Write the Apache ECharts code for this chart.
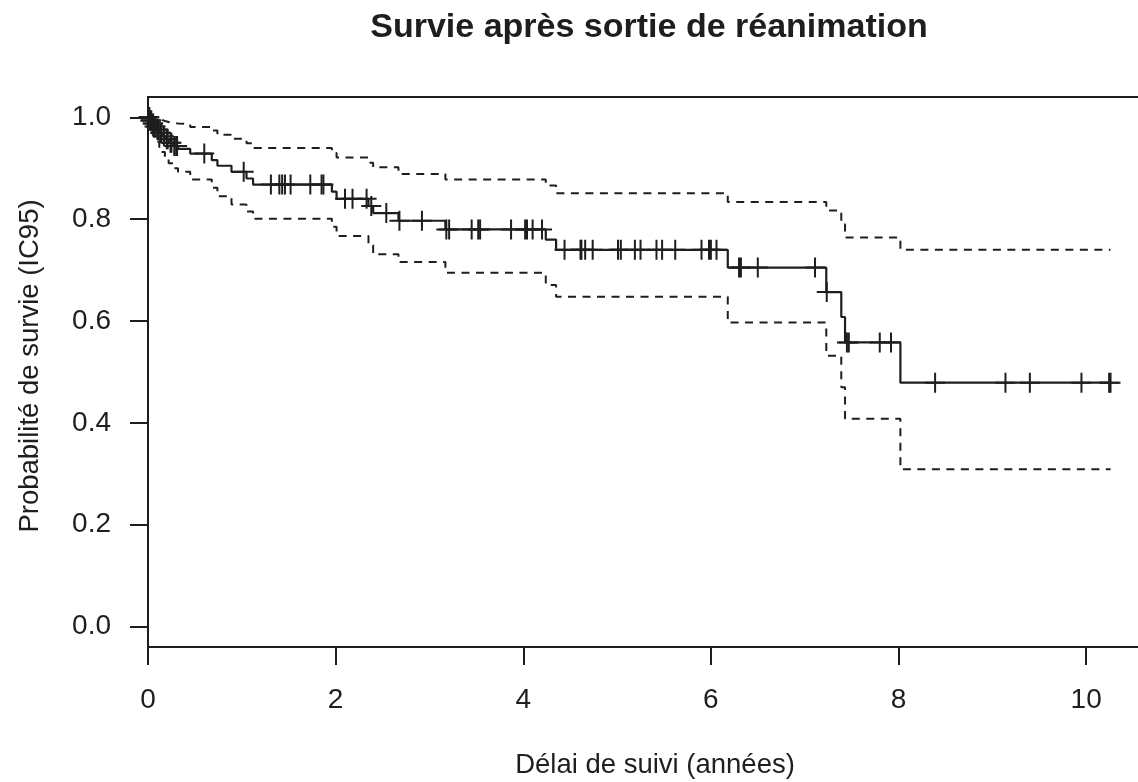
<!DOCTYPE html>
<html>
<head>
<meta charset="utf-8">
<script src="https://cdn.jsdelivr.net/npm/echarts@6/dist/echarts.min.js"></script>
<style>
html,body{margin:0;padding:0;background:#fff;}
#chart{width:1138px;height:782px;}
</style>
</head>
<body>
<div id="chart"></div>
<script>
// ---- Data (Kaplan-Meier estimate with 95% CI) ----
var chartTitle = 'Survie après sortie de réanimation';
var xTitle = 'Délai de suivi (années)';
var yTitle = 'Probabilité de survie (IC95)';
var xTickValues = [0, 2, 4, 6, 8, 10];
var yTickValues = [0, 0.2, 0.4, 0.6, 0.8, 1.0];

// event times (years) and survival estimate after each event
var eventTimes = [0, 0.02, 0.04, 0.06, 0.09, 0.12, 0.15, 0.18, 0.22, 0.27, 0.32, 0.45, 0.68, 0.74, 0.89, 1.05, 1.12, 1.96, 2.01, 2.35, 2.40, 2.67, 3.17, 4.24, 4.35, 6.18, 7.23, 7.39, 7.43, 8.02];
var survival   = [1.0, 0.994, 0.988, 0.982, 0.976, 0.970, 0.963, 0.957, 0.950, 0.944, 0.938, 0.929, 0.916, 0.905, 0.893, 0.880, 0.868, 0.854, 0.840, 0.826, 0.812, 0.797, 0.780, 0.760, 0.740, 0.705, 0.657, 0.608, 0.558, 0.479];
var upperCI    = [1.0, 1.0, 1.0, 0.999, 0.997, 0.995, 0.993, 0.991, 0.989, 0.988, 0.987, 0.981, 0.974, 0.966, 0.958, 0.949, 0.940, 0.930, 0.921, 0.911, 0.902, 0.889, 0.878, 0.866, 0.851, 0.834, 0.817, 0.790, 0.764, 0.740];
var lowerCI    = [1.0, 0.983, 0.972, 0.962, 0.952, 0.942, 0.932, 0.922, 0.910, 0.900, 0.893, 0.878, 0.862, 0.845, 0.829, 0.815, 0.801, 0.785, 0.767, 0.749, 0.731, 0.716, 0.695, 0.671, 0.648, 0.597, 0.532, 0.470, 0.408, 0.309];
var lastTime = 10.26;

// censoring times (years)
var censorTimes = [0.005, 0.01, 0.015, 0.025, 0.03, 0.035, 0.05, 0.055, 0.07, 0.08, 0.10, 0.11, 0.13, 0.14, 0.17, 0.20, 0.21, 0.24, 0.25, 0.28, 0.30, 0.31,
  0.60, 1.02, 1.31, 1.40, 1.43, 1.46, 1.52, 1.73, 1.85, 1.87, 2.10, 2.18, 2.33, 2.38, 2.54, 2.68, 2.92,
  3.18, 3.21, 3.45, 3.52, 3.54, 3.87, 4.02, 4.04, 4.10, 4.20, 4.44, 4.61, 4.62, 4.66, 4.74,
  5.01, 5.04, 5.19, 5.25, 5.42, 5.48, 5.62, 5.90, 5.98, 6.00, 6.06, 6.30, 6.32, 6.50, 7.11, 7.235,
  7.45, 7.47, 7.80, 7.92, 8.39, 9.14, 9.40, 9.95, 10.245, 10.26];

// ---- build series data ----
function stepData(vals) {
  var d = eventTimes.map(function (t, i) { return [t, vals[i]]; });
  d.push([lastTime, vals[vals.length - 1]]);
  return d;
}
function survAt(t) {
  var s = survival[0];
  for (var i = 0; i < eventTimes.length; i++) { if (eventTimes[i] <= t) s = survival[i]; }
  return s;
}
var censorData = censorTimes.map(function (t) { return [t, survAt(t)]; });

var ink = '#1e1e1e';
var FONT = '"Liberation Sans", Arial, Helvetica, sans-serif';

var chart = echarts.init(document.getElementById('chart'), null, { renderer: 'canvas' });
chart.setOption({
  animation: false,
  backgroundColor: '#fff',
  grid: { left: 148, right: -11, top: 97, bottom: 135, outerBoundsMode: 'none', containLabel: false,
          show: true, borderColor: ink, borderWidth: 2, backgroundColor: 'transparent' },
  xAxis: {
    type: 'value', min: 0, max: 10.67,
    axisLine: { show: false, onZero: false },
    splitLine: { show: false },
    axisTick: { show: true, inside: false, length: 18, customValues: xTickValues, lineStyle: { color: ink, width: 2 } },
    axisLabel: { customValues: xTickValues, margin: 39, fontSize: 28, fontFamily: FONT, color: ink, formatter: function (v) { return String(v); } }
  },
  yAxis: {
    type: 'value', min: -0.04, max: 1.04,
    axisLine: { show: false, onZero: false },
    splitLine: { show: false },
    axisTick: { show: true, inside: false, length: 18, customValues: yTickValues, lineStyle: { color: ink, width: 2 } },
    axisLabel: { customValues: yTickValues, margin: 37, fontSize: 28, fontFamily: FONT, color: ink, formatter: function (v) { return v.toFixed(1); } }
  },
  graphic: [
    { type: 'text', x: 649, y: 28, style: { text: chartTitle, fontSize: 34, fontWeight: 'bold', fontFamily: FONT, fill: ink, align: 'center', verticalAlign: 'middle' } },
    { type: 'text', x: 655, y: 765, style: { text: xTitle, fontSize: 27.5, fontFamily: FONT, fill: ink, align: 'center', verticalAlign: 'middle' } },
    { type: 'text', x: 30, y: 366, rotation: Math.PI / 2, style: { text: yTitle, fontSize: 27.5, fontFamily: FONT, fill: ink, align: 'center', verticalAlign: 'middle' } }
  ],
  series: [
    { name: 'upper', type: 'line', step: 'end', data: stepData(upperCI), showSymbol: false, lineStyle: { color: ink, width: 2, type: [8, 6.5] }, silent: true },
    { name: 'lower', type: 'line', step: 'end', data: stepData(lowerCI), showSymbol: false, lineStyle: { color: ink, width: 2, type: [8, 6.5] }, silent: true },
    { name: 'survie', type: 'line', step: 'end', data: stepData(survival), showSymbol: false, lineStyle: { color: ink, width: 2.2 }, silent: true },
    { name: 'censures', type: 'scatter', data: censorData, symbol: 'path://M0,10L20,10M10,0L10,20', symbolSize: 20,
      itemStyle: { color: 'none', borderColor: ink, borderWidth: 2, opacity: 1 }, silent: true }
  ]
});
</script>
</body>
</html>
